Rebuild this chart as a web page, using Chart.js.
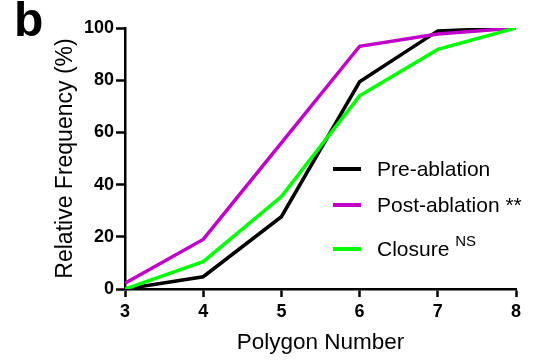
<!DOCTYPE html>
<html>
<head>
<meta charset="utf-8">
<script src="https://cdn.jsdelivr.net/npm/chart.js@4"></script>
<style>
  body { margin: 0; background: #fff; }
  #wrap { position: relative; width: 541px; height: 360px; font-family: "Liberation Sans", Arial, sans-serif; }
  #panel { position: absolute; left: 14px; top: -8px; font-size: 48px; font-weight: bold; }
  #legend { position: absolute; left: 333px; top: 156px; font-size: 21px; }
  #legend div { height: 36px; line-height: 26px; white-space: nowrap; }
  #legend span.sw { display: inline-block; width: 28px; height: 4px; vertical-align: middle; margin-right: 16px; position: relative; top: -1px; }
  #legend sup { font-size: 15px; vertical-align: 10px; }
</style>
</head>
<body>
<div id="wrap">
  <canvas id="graph" width="541" height="360"></canvas>
  <div id="panel">b</div>
  <div id="legend"></div>
</div>
<script>
// polygon number (x) vs cumulative relative frequency (%)
const polygons = [3, 4, 5, 6, 7, 8];
const preAblation = [0, 4.7, 27.7, 79.4, 98.9, 100];
const postAblation = [2.2, 19, 56, 93, 97.7, 100];
const closure = [0, 10.5, 35.4, 74, 91.8, 100];
const yTicks = [0, 20, 40, 60, 80, 100];

const series = [
    { name: 'Pre-ablation', mark: '', data: preAblation, color: '#000000' },
    { name: 'Post-ablation', mark: '**', data: postAblation, color: '#c000c8' },
    { name: 'Closure', mark: 'NS', data: closure, color: '#00ff00' }
];

const tickFont = { family: 'Liberation Sans', size: 18, weight: 'bold' };

new Chart(document.getElementById('graph'), {
    type: 'line',
    data: {
        datasets: series.map(s => ({
            label: s.name,
            data: polygons.map((x, i) => ({ x: x, y: s.data[i] })),
            borderColor: s.color,
            backgroundColor: s.color,
            borderWidth: 3.5,
            pointRadius: 0,
            tension: 0,
            fill: false
        })).reverse()
    },
    options: {
        responsive: false,
        animation: false,
        layout: { padding: { left: 0, right: 25, top: 28, bottom: 0 } },
        plugins: { legend: { display: false }, tooltip: { enabled: false } },
        scales: {
            x: {
                type: 'linear',
                min: 3, max: 8,
                afterBuildTicks: s => { s.ticks = polygons.map(v => ({ value: v })); },
                afterFit: s => { s.height = 71; },
                grid: { drawOnChartArea: false, drawTicks: true, tickLength: 8, tickColor: '#000', tickWidth: 2.5 },
                border: { display: true, color: '#000', width: 2.5 },
                ticks: { color: '#000', font: tickFont, padding: 4, maxRotation: 0 },
                title: { display: true, text: 'Polygon Number', color: '#000', font: { family: 'Liberation Sans', size: 22.5 }, padding: { top: 0, bottom: 4 } }
            },
            y: {
                min: 0, max: 100,
                afterBuildTicks: s => { s.ticks = yTicks.map(v => ({ value: v })); },
                afterFit: s => { s.width = 125; },
                grid: { drawOnChartArea: false, drawTicks: true, tickLength: 9, tickColor: '#000', tickWidth: 2.5 },
                border: { display: true, color: '#000', width: 2.5 },
                ticks: { color: '#000', font: tickFont, padding: 2 },
                title: { display: true, text: 'Relative Frequency (%)', color: '#000', font: { family: 'Liberation Sans', size: 23 }, padding: { top: 52, bottom: 0 } }
            }
        }
    }
});

const legend = document.getElementById('legend');
series.forEach(s => {
    const row = document.createElement('div');
    row.innerHTML = `<span class="sw" style="background:${s.color}"></span>${s.name}` +
        (s.mark === '**' ? ' **' : s.mark ? ` <sup>${s.mark}</sup>` : '');
    legend.appendChild(row);
});
</script>
</body>
</html>
